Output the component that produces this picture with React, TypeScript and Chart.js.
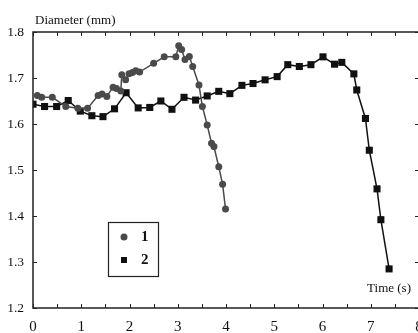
import React, { useEffect, useRef } from "react";
import { Chart, registerables } from "chart.js";

Chart.register(...registerables);

// Series 1 (circles): time (s), diameter (mm)
const time1 = [0.09, 0.18, 0.40, 0.68, 0.93, 1.13, 1.35, 1.43, 1.53, 1.66, 1.73, 1.82, 1.84, 1.92, 1.99, 2.06, 2.13, 2.21, 2.50, 2.72, 2.96, 3.02, 3.08, 3.15, 3.24, 3.31, 3.44, 3.51, 3.61, 3.70, 3.75, 3.85, 3.93, 3.99];
const diam1 = [1.662, 1.658, 1.658, 1.638, 1.634, 1.634, 1.662, 1.665, 1.660, 1.680, 1.677, 1.672, 1.707, 1.696, 1.709, 1.712, 1.716, 1.713, 1.732, 1.746, 1.746, 1.770, 1.762, 1.740, 1.747, 1.725, 1.685, 1.638, 1.598, 1.558, 1.551, 1.507, 1.469, 1.415];

// Series 2 (squares)
const time2 = [0.0, 0.24, 0.49, 0.73, 0.98, 1.22, 1.45, 1.69, 1.93, 2.18, 2.42, 2.65, 2.88, 3.13, 3.37, 3.61, 3.85, 4.08, 4.33, 4.56, 4.81, 5.06, 5.28, 5.52, 5.76, 6.01, 6.25, 6.40, 6.65, 6.71, 6.89, 6.97, 7.13, 7.21, 7.38];
const diam2 = [1.643, 1.638, 1.638, 1.651, 1.628, 1.618, 1.616, 1.633, 1.668, 1.635, 1.636, 1.650, 1.632, 1.658, 1.652, 1.661, 1.671, 1.666, 1.684, 1.688, 1.696, 1.703, 1.729, 1.725, 1.729, 1.746, 1.730, 1.734, 1.709, 1.674, 1.612, 1.543, 1.459, 1.392, 1.285];

const seriesNames = ["1", "2"];
const xMin = 0, xMax = 8, xStep = 1;
const yMin = 1.2, yMax = 1.8, yStep = 0.1;
const yAxisTitle = "Diameter (mm)";
const xAxisTitle = "Time (s)";

const COLOR1 = "#4a4a4a";
const COLOR2 = "#111111";
const FONT = "'Liberation Serif', 'Times New Roman', serif";

const decor = {
  id: "decor",
  afterDraw(chart: any) {
    const ctx = chart.ctx;
    const { left, right, top, bottom } = chart.chartArea;
    const xs = chart.scales.x;
    const ys = chart.scales.y;
    ctx.save();
    ctx.strokeStyle = "#222";
    ctx.lineWidth = 1.5;
    ctx.strokeRect(left, top, right - left, bottom - top);
    ctx.lineWidth = 1;
    const tl = 4;
    for (let v = xMin; v <= xMax + 1e-9; v += 0.5) {
      const px = Math.round(xs.getPixelForValue(v)) + 0.5;
      ctx.beginPath();
      ctx.moveTo(px, bottom); ctx.lineTo(px, bottom - tl);
      ctx.moveTo(px, top); ctx.lineTo(px, top + tl);
      ctx.stroke();
    }
    for (let v = yMin; v <= yMax + 1e-9; v += yStep) {
      const py = Math.round(ys.getPixelForValue(v)) + 0.5;
      ctx.beginPath();
      ctx.moveTo(left, py); ctx.lineTo(left + tl, py);
      ctx.moveTo(right, py); ctx.lineTo(right - tl, py);
      ctx.stroke();
    }
    // titles
    ctx.fillStyle = "#111";
    ctx.font = `13px ${FONT}`;
    ctx.textAlign = "left";
    ctx.textBaseline = "alphabetic";
    ctx.fillText(yAxisTitle, 35, 24);
    ctx.textAlign = "right";
    ctx.fillText(xAxisTitle, 411, 292);
    // legend box
    const bx = 108, by = 222, bw = 50, bh = 54;
    ctx.lineWidth = 1.2;
    ctx.strokeStyle = "#222";
    ctx.strokeRect(bx + 0.5, by + 0.5, bw, bh);
    ctx.fillStyle = COLOR1;
    ctx.beginPath();
    ctx.arc(124, 237, 3.5, 0, Math.PI * 2);
    ctx.fill();
    ctx.fillStyle = COLOR2;
    ctx.fillRect(121, 257, 6, 6);
    ctx.fillStyle = "#111";
    ctx.font = `bold 15px ${FONT}`;
    ctx.textAlign = "left";
    ctx.textBaseline = "middle";
    ctx.fillText(seriesNames[0], 141, 237);
    ctx.fillText(seriesNames[1], 141, 260);
    ctx.restore();
  },
};

export default function App() {
  const ref = useRef<HTMLCanvasElement | null>(null);
  useEffect(() => {
    document.body.style.margin = "0";
    const canvas = ref.current;
    if (!canvas) return;
    const chart = new Chart(canvas, {
      type: "scatter",
      data: {
        datasets: [
          {
            label: seriesNames[0],
            data: time1.map((t, i) => ({ x: t, y: diam1[i] })),
            showLine: true,
            borderColor: COLOR1,
            backgroundColor: COLOR1,
            borderWidth: 1.5,
            pointStyle: "circle",
            pointRadius: 3.5,
            pointBorderWidth: 0,
          },
          {
            label: seriesNames[1],
            data: time2.map((t, i) => ({ x: t, y: diam2[i] })),
            showLine: true,
            borderColor: COLOR2,
            backgroundColor: COLOR2,
            borderWidth: 1.5,
            pointStyle: "rect",
            pointRadius: 5,
            pointBorderWidth: 0,
          },
        ],
      },
      options: {
        animation: false,
        responsive: false,
        layout: { padding: { top: 32, right: 1, left: 0, bottom: 0 } },
        plugins: { legend: { display: false }, tooltip: { enabled: false } },
        scales: {
          x: {
            type: "linear",
            min: xMin,
            max: xMax,
            grid: { display: false, drawTicks: false },
            border: { display: false },
            ticks: {
              stepSize: xStep,
              color: "#111",
              padding: 10,
              maxRotation: 0,
              font: { family: FONT, size: 15 },
            },
            afterFit: (s: any) => {
              s.height = 25;
              s.paddingLeft = 0;
              s.paddingRight = 0;
            },
          },
          y: {
            min: yMin,
            max: yMax,
            grid: { display: false, drawTicks: false },
            border: { display: false },
            ticks: {
              stepSize: yStep,
              color: "#111",
              padding: 9,
              font: { family: FONT, size: 13.5 },
              callback: (v: any) => Number(v).toFixed(1),
            },
            afterFit: (s: any) => {
              s.width = 33;
              s.paddingTop = 0;
              s.paddingBottom = 0;
            },
          },
        },
      },
      plugins: [decor],
    });
    return () => chart.destroy();
  }, []);
  return (
    <div style={{ width: 418, height: 333, overflow: "hidden" }}>
      <canvas ref={ref} width={424} height={333} />
    </div>
  );
}
